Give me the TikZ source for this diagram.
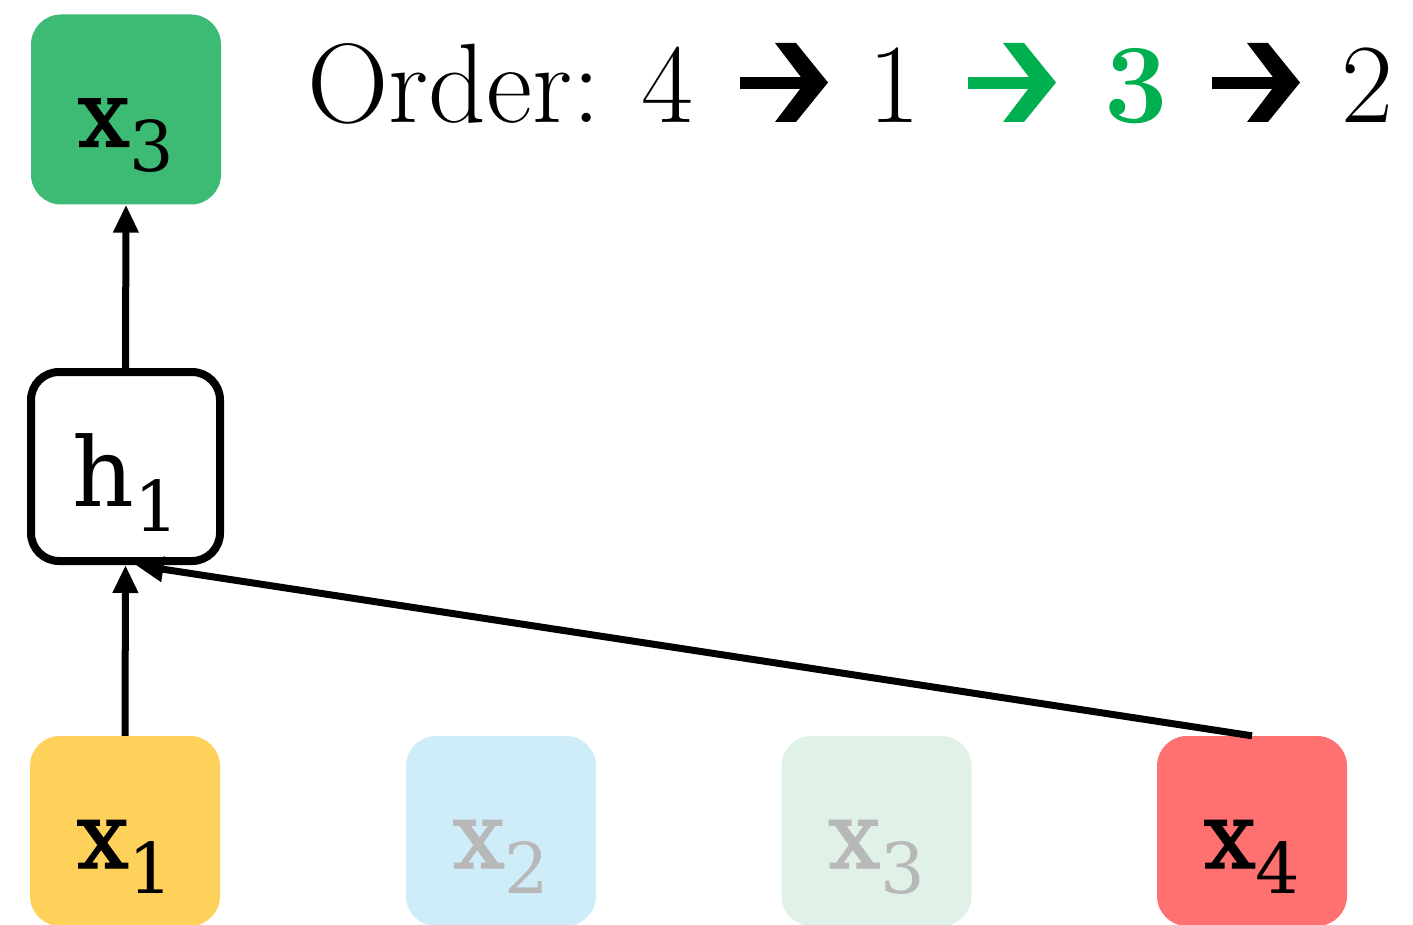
\documentclass[tikz,border=0pt]{standalone}
\usepackage{fontspec}
\newfontfamily\slab{DejaVu Serif}
\newfontfamily\slabx[FakeBold=1.6]{DejaVu Serif}
\usetikzlibrary{arrows.meta}
\definecolor{topgreen}{HTML}{3DBB75}
\definecolor{tokyellow}{HTML}{FED15A}
\definecolor{tokblue}{HTML}{CFECF9}
\definecolor{tokmint}{HTML}{E0F1E8}
\definecolor{tokred}{HTML}{FF7070}
\definecolor{fadetext}{HTML}{B8B8B8}
\definecolor{ordgreen}{HTML}{00B050}
\newcommand{\xlab}[2]{{\fontsize{92}{92}\selectfont\slabx #1}\raisebox{-25pt}{\fontsize{70}{70}\selectfont #2}}
\newcommand{\hlab}[2]{{\fontsize{96}{96}\selectfont #1}\raisebox{-25pt}{\fontsize{70}{70}\selectfont #2}}
\tikzset{
  tok/.style={rounded corners=30pt, minimum width=190pt, minimum height=190pt,
    inner sep=0pt, text height=74pt, text depth=0pt, font=\slab},
  hidden/.style={tok, text=fadetext},
  hbox/.style={draw=black, line width=8pt, fill=white, rounded corners=28pt,
    minimum width=189pt, minimum height=189pt, inner sep=0pt,
    text height=80pt, text depth=0pt, font=\slab},
  link/.style={line width=7pt, -{Triangle[length=28pt,width=24pt]}},
  ordtext/.style={anchor=base west, inner sep=0pt, font=\fontsize{113}{113}\selectfont},
  ordarrow/.pic={
    \fill (0,77.5) rectangle (67,89);
    \fill (35,43) -- (56,43) -- (88,82.5) -- (56,122) -- (35,122) -- (65,82.5) -- cycle;
  }
}
\begin{document}
\begin{tikzpicture}[x=1pt, y=-1pt]
\useasboundingbox (0,0) rectangle (1413,925);
% nodes
\node[tok, fill=topgreen] (xtop) at (126,109.5) {\xlab{x}{3}};
\node[hbox] (h1) at (125.5,466.5) {\hlab{h}{1}};
\node[tok, fill=tokyellow] (x1) at (125,831) {\xlab{x}{1}};
\node[hidden, fill=tokblue] (x2) at (501,831) {\xlab{x}{2}};
\node[hidden, fill=tokmint] (x3) at (876.5,831) {\xlab{x}{3}};
\node[tok, fill=tokred] (x4) at (1252,831) {\xlab{x}{4}};
% connectors
\draw[link] (x1.north) -- (h1.south);
\draw[link] (x4.north) -- ([xshift=10pt]h1.south);
\draw[link] (h1.north) -- (xtop.south);
% order line
\node[ordtext] (ordlabel) at (307,123) {Order:};
\node[ordtext] (o4) at (641,123) {4};
\pic[color=black] at (740,0) {ordarrow};
\node[ordtext] (o1) at (868,123) {1};
\pic[color=ordgreen] at (968,0) {ordarrow};
\node[ordtext, text=ordgreen] (o3) at (1104,123) {\bfseries 3};
\pic[color=black] at (1212,0) {ordarrow};
\node[ordtext] (o2) at (1341,123) {2};
\end{tikzpicture}
\end{document}
